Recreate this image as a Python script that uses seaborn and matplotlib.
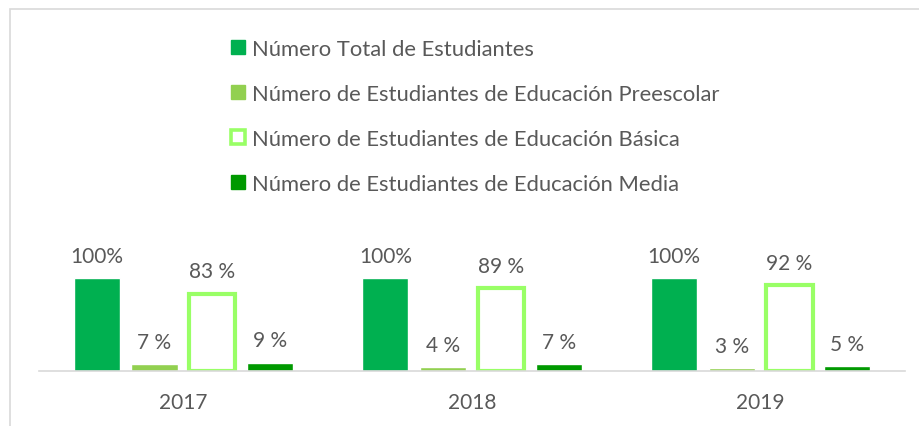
import pandas as pd
import matplotlib.pyplot as plt
import matplotlib.patches as mpatches
import seaborn as sns

# datos (porcentaje respecto al total)
anios = ['2017', '2018', '2019']
series = ['Número Total de Estudiantes',
          'Número de Estudiantes de Educación Preescolar',
          'Número de Estudiantes de Educación Básica',
          'Número de Estudiantes de Educación Media']
total = [100, 100, 100]
preescolar = [7, 4, 3]
basica = [83, 89, 92]
media = [9, 7, 5]
colores = ['#00B050', '#92D050', '#99FF66', '#009900']

valores = [total, preescolar, basica, media]
df = pd.DataFrame([(a, s, v[i]) for s, v in zip(series, valores) for i, a in enumerate(anios)],
                  columns=['anio', 'serie', 'valor'])

sns.set_style('white')
plt.rcParams['font.family'] = ['Lato', 'DejaVu Sans']
gris = '#595959'

fig = plt.figure(figsize=(9.2, 4.27), dpi=100)
ax = fig.add_axes([39 / 920, 55 / 427, 866 / 920, 172 / 427])

sns.barplot(data=df, x='anio', y='valor', hue='serie', palette=colores,
            width=0.8, gap=0.2, saturation=1, legend=False, ax=ax)

# la serie de educación básica va sin relleno, solo con borde
for p in ax.containers[2]:
    p.set_facecolor('white')
    p.set_edgecolor(colores[2])
    p.set_linewidth(3)

for k, cont in enumerate(ax.containers):
    if k == 0:
        etiquetas = ['%d%%' % v for v in valores[k]]
    else:
        etiquetas = ['%d %%' % v for v in valores[k]]
    ax.bar_label(cont, labels=etiquetas, padding=9, fontsize=15, color=gris)

ax.set_ylim(0, 185)
ax.set_xlim(-0.5, 2.5)
ax.set_xlabel('')
ax.set_ylabel('')
ax.set_yticks([])
ax.tick_params(axis='x', length=0, labelsize=15, labelcolor=gris, pad=15)
for lado in ['top', 'right', 'left']:
    ax.spines[lado].set_visible(False)
ax.spines['bottom'].set_color('#D9D9D9')
ax.spines['bottom'].set_linewidth(1.2)

manejadores = [mpatches.Patch(facecolor=colores[0], edgecolor=colores[0]),
               mpatches.Patch(facecolor=colores[1], edgecolor=colores[1]),
               mpatches.Patch(facecolor='white', edgecolor=colores[2], linewidth=2.6),
               mpatches.Patch(facecolor=colores[3], edgecolor=colores[3])]
ley = fig.legend(manejadores, series, loc='upper left', bbox_to_anchor=(222 / 920, 1 - 31 / 427),
                 frameon=False, fontsize=15.8, handlelength=0.64, handleheight=0.64,
                 handletextpad=0.31, labelspacing=1.14, borderaxespad=0)
for t in ley.get_texts():
    t.set_color(gris)

# marco del área del gráfico
fig.add_artist(mpatches.Rectangle((10 / 920, -0.1), 1.2, 1 - 10 / 427 + 0.1,
                                  transform=fig.transFigure, fill=False,
                                  edgecolor='#D9D9D9', linewidth=1.2))

fig.savefig('out.png', dpi=100, facecolor='white')
